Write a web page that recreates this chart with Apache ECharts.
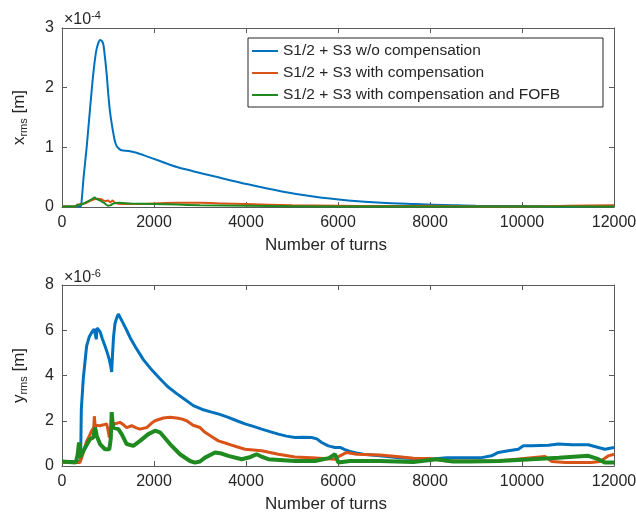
<!DOCTYPE html>
<html>
<head>
<meta charset="utf-8">
<script src="https://cdn.jsdelivr.net/npm/echarts@6/dist/echarts.min.js"></script>
<style>
  html, body { margin: 0; padding: 0; background: #fff; }
  #chart { width: 636px; height: 516px; }
</style>
</head>
<body>
<div id="chart"></div>
<script>
// Series names
const seriesNames = [
  'S1/2 + S3 w/o compensation',
  'S1/2 + S3 with compensation',
  'S1/2 + S3 with compensation and FOFB'
];
const seriesColors = ['#0072BD', '#D95319', '#1f8a1f'];

// x ticks (number of turns)
const turnTicks = [0, 2000, 4000, 6000, 8000, 10000, 12000];

// Horizontal rms, units of 1e-4 m: [turn, value]
const xrmsNoComp = [
  [0,0.01],[400,0.01],[420,0.05],[470,0.5],[536,1.0],[610,1.65],[681,2.24],[740,2.6],[790,2.75],
  [830,2.8],[870,2.78],[900,2.72],[935,2.5],[970,2.24],[1005,1.9],[1040,1.62],[1080,1.4],[1115,1.24],
  [1150,1.1],[1190,1.02],[1250,0.97],[1300,0.95],[1450,0.94],[1620,0.91],[1770,0.87],[2130,0.77],
  [2500,0.67],[2850,0.6],[3330,0.51],[4040,0.38],[4780,0.26],[5500,0.17],[6220,0.11],[6950,0.07],
  [7670,0.05],[8500,0.03],[9000,0.02],[10000,0.015],[11000,0.01],[12000,0.02]
];
const xrmsComp = [
  [0,0.01],[300,0.01],[330,0.04],[420,0.05],[500,0.06],[600,0.1],[700,0.13],[780,0.14],[850,0.13],
  [950,0.1],[1000,0.11],[1050,0.08],[1100,0.11],[1150,0.07],[1300,0.05],[1600,0.05],[2000,0.06],
  [2500,0.07],[3000,0.07],[3500,0.06],[4000,0.05],[5000,0.03],[6000,0.02],[7000,0.015],[8000,0.02],
  [9000,0.01],[10000,0.01],[11000,0.02],[12000,0.03]
];
const xrmsCompFofb = [
  [0,0.01],[280,0.01],[330,0.03],[450,0.05],[550,0.09],[650,0.13],[710,0.16],[760,0.13],[850,0.1],
  [930,0.06],[1000,0.02],[1060,0.03],[1116,0.06],[1250,0.07],[1500,0.06],[2000,0.05],[2500,0.04],
  [3000,0.03],[4000,0.02],[6000,0.01],[12000,0.01]
];

// Vertical rms, units of 1e-6 m: [turn, value]
const yrmsNoComp = [
  [0,0.2],[390,0.2],[405,0.3],[420,2.5],[464,3.9],[535,5.3],[590,5.7],[645,5.9],[700,6.05],[735,6.1],
  [745,5.6],[760,6.1],[790,6.1],[826,5.95],[880,5.6],[935,5.3],[985,5.0],[1029,4.7],[1060,4.4],
  [1080,4.16],[1100,5.0],[1120,5.7],[1152,6.3],[1190,6.55],[1225,6.72],[1260,6.65],[1320,6.35],
  [1406,6.0],[1500,5.6],[1600,5.25],[1768,4.7],[1950,4.25],[2130,3.86],[2300,3.5],[2493,3.2],
  [2680,2.93],[2855,2.67],[3050,2.5],[3254,2.38],[3430,2.28],[3616,2.15],[3800,2.0],[3978,1.86],
  [4160,1.75],[4340,1.63],[4520,1.52],[4703,1.41],[4880,1.32],[5065,1.26],[5250,1.27],[5427,1.26],
  [5540,1.2],[5645,1.04],[5790,0.89],[5935,0.82],[6043,0.82],[6150,0.72],[6261,0.64],[6400,0.58],
  [6551,0.52],[6913,0.45],[7276,0.37],[7638,0.33],[8000,0.3],[8362,0.37],[8870,0.37],[9123,0.37],
  [9340,0.45],[9485,0.6],[9703,0.67],[9920,0.74],[10029,0.89],[10210,0.9],[10573,0.92],[10790,0.97],
  [11080,0.94],[11442,0.94],[11660,0.82],[11805,0.74],[12000,0.82]
];
const yrmsComp = [
  [0,0.15],[390,0.15],[450,0.5],[535,1.1],[600,1.35],[645,1.56],[690,1.7],[703,2.2],[720,1.8],
  [754,1.86],[826,1.78],[900,1.82],[971,1.86],[1000,1.6],[1029,1.26],[1060,1.6],[1080,1.93],
  [1152,1.86],[1261,1.93],[1350,1.8],[1406,1.7],[1514,1.78],[1600,1.7],[1696,1.63],[1841,1.7],
  [1950,1.9],[2022,2.0],[2203,2.12],[2350,2.15],[2493,2.12],[2600,2.08],[2710,2.0],[2850,1.8],
  [3000,1.7],[3109,1.49],[3250,1.3],[3399,1.11],[3616,0.97],[3800,0.85],[3978,0.74],[4340,0.67],
  [4703,0.52],[5065,0.4],[5427,0.37],[5935,0.3],[6043,0.45],[6188,0.6],[6406,0.52],[6913,0.49],
  [7276,0.42],[7638,0.34],[8000,0.33],[8362,0.22],[9000,0.22],[9500,0.22],[10210,0.37],[10500,0.42],
  [10650,0.2],[10950,0.15],[11500,0.15],[11700,0.2],[11878,0.45],[12000,0.52]
];
const yrmsCompFofb = [
  [0,0.2],[300,0.15],[340,0.5],[370,1.04],[391,0.37],[450,0.6],[500,0.8],[609,1.19],[681,1.26],
  [717,1.7],[740,1.5],[754,1.34],[826,0.97],[935,0.74],[1029,0.74],[1060,1.2],[1080,2.38],[1100,1.9],
  [1116,1.7],[1225,1.63],[1297,1.41],[1406,0.97],[1551,0.89],[1696,1.11],[1877,1.41],[2022,1.56],
  [2130,1.49],[2348,0.97],[2565,0.52],[2783,0.22],[2891,0.15],[3000,0.2],[3109,0.37],[3326,0.6],
  [3470,0.55],[3616,0.45],[3906,0.3],[4100,0.4],[4232,0.52],[4350,0.4],[4485,0.3],[5065,0.22],
  [5500,0.22],[5800,0.35],[5935,0.52],[6007,0.15],[6261,0.22],[6913,0.22],[7638,0.18],[8145,0.3],
  [8500,0.2],[8870,0.2],[9500,0.22],[10210,0.3],[10800,0.37],[11442,0.45],[11660,0.3],[11805,0.15],
  [12000,0.15]
];

const FONT = '"Liberation Sans", Arial, Helvetica, sans-serif';
const TEXT = '#262626';
const AXIS = '#5a5a5a';

const grids = [
  { left: 62, top: 28, width: 552, height: 179, containLabel: false, outerBoundsMode: 'none' },
  { left: 62, top: 285, width: 552, height: 181, containLabel: false, outerBoundsMode: 'none' }
];

const plainNumber = (v) => String(v);

function xAxes(gi) {
  const base = {
    type: 'value', gridIndex: gi, min: turnTicks[0], max: turnTicks[turnTicks.length - 1],
    interval: 2000, splitLine: { show: false },
    axisLine: { show: true, onZero: false, lineStyle: { color: AXIS, width: 1 } },
    axisTick: { show: true, inside: true, length: 5, lineStyle: { color: AXIS } }
  };
  return [
    Object.assign({}, base, {
      position: 'bottom',
      axisLabel: { color: TEXT, fontSize: 16, fontFamily: FONT, margin: 8, formatter: plainNumber },
      name: 'Number of turns', nameLocation: 'middle', nameGap: 30,
      nameTextStyle: { color: TEXT, fontSize: 17, fontFamily: FONT, padding: [0, 24, 0, 0] }
    }),
    Object.assign({}, base, { position: 'top', axisLabel: { show: false } })
  ];
}

function yAxes(gi, max, sym) {
  const base = {
    type: 'value', gridIndex: gi, min: 0, max: max, interval: gi === 0 ? 1 : 2,
    splitLine: { show: false },
    axisLine: { show: true, onZero: false, lineStyle: { color: AXIS, width: 1 } },
    axisTick: { show: true, inside: true, length: 5, lineStyle: { color: AXIS } }
  };
  return [
    Object.assign({}, base, {
      position: 'left',
      axisLabel: { color: TEXT, fontSize: 16, fontFamily: FONT, margin: 8, formatter: plainNumber },
      name: '{i|' + sym + '}{s|rms}{i| [m]}', nameLocation: 'middle', nameGap: 32,
      nameTextStyle: {
        color: TEXT, fontFamily: FONT,
        rich: {
          i: { fontSize: 17, fontFamily: FONT, color: TEXT, lineHeight: 22 },
          s: { fontSize: 11, fontFamily: FONT, color: TEXT, lineHeight: 22, padding: [9, 0, 0, 0] }
        }
      }
    }),
    Object.assign({}, base, { position: 'right', axisLabel: { show: false } })
  ];
}

function lineSeries(name, data, color, xi, yi, width, smooth) {
  return {
    name: name, type: 'line', data: data, xAxisIndex: xi, yAxisIndex: yi,
    symbol: 'none', smooth: smooth, lineStyle: { color: color, width: width },
    itemStyle: { color: color }, animation: false
  };
}

const xa = xAxes(0).concat(xAxes(1));
const ya = yAxes(0, 3, 'x').concat(yAxes(1, 8, 'y'));

function exponentLabel(top, exp) {
  return {
    type: 'text', left: 64, top: top, silent: true,
    style: {
      text: '{b|×10}{e|' + exp + '}',
      rich: {
        b: { fontSize: 16, fontFamily: FONT, fill: TEXT, lineHeight: 20 },
        e: { fontSize: 11, fontFamily: FONT, fill: TEXT, lineHeight: 20, padding: [0, 0, 8, 0] }
      }
    }
  };
}

const option = {
  backgroundColor: '#fff',
  animation: false,
  grid: grids,
  xAxis: xa,
  yAxis: ya,
  legend: {
    left: 248, top: 38, orient: 'vertical',
    data: seriesNames,
    icon: 'rect',
    itemWidth: 26, itemHeight: 2, itemGap: 6,
    padding: [5, 43, 4, 4],
    borderColor: '#262626', borderWidth: 1, backgroundColor: '#fff',
    textStyle: { fontSize: 15.5, fontFamily: FONT, color: TEXT, lineHeight: 14 }
  },
  graphic: [exponentLabel(10, '-4'), exponentLabel(268, '-6')],
  series: [
    lineSeries(seriesNames[0], xrmsNoComp, seriesColors[0], 0, 0, 2, 0.3),
    lineSeries(seriesNames[1], xrmsComp, seriesColors[1], 0, 0, 2, 0.3),
    lineSeries(seriesNames[2], xrmsCompFofb, seriesColors[2], 0, 0, 2, 0.3),
    lineSeries(seriesNames[0], yrmsNoComp, seriesColors[0], 2, 2, 3, false),
    lineSeries(seriesNames[1], yrmsComp, seriesColors[1], 2, 2, 3, false),
    lineSeries(seriesNames[2], yrmsCompFofb, seriesColors[2], 2, 2, 4, false)
  ]
};

const chart = echarts.init(document.getElementById('chart'), null, { renderer: 'canvas' });
chart.setOption(option);
</script>
</body>
</html>
